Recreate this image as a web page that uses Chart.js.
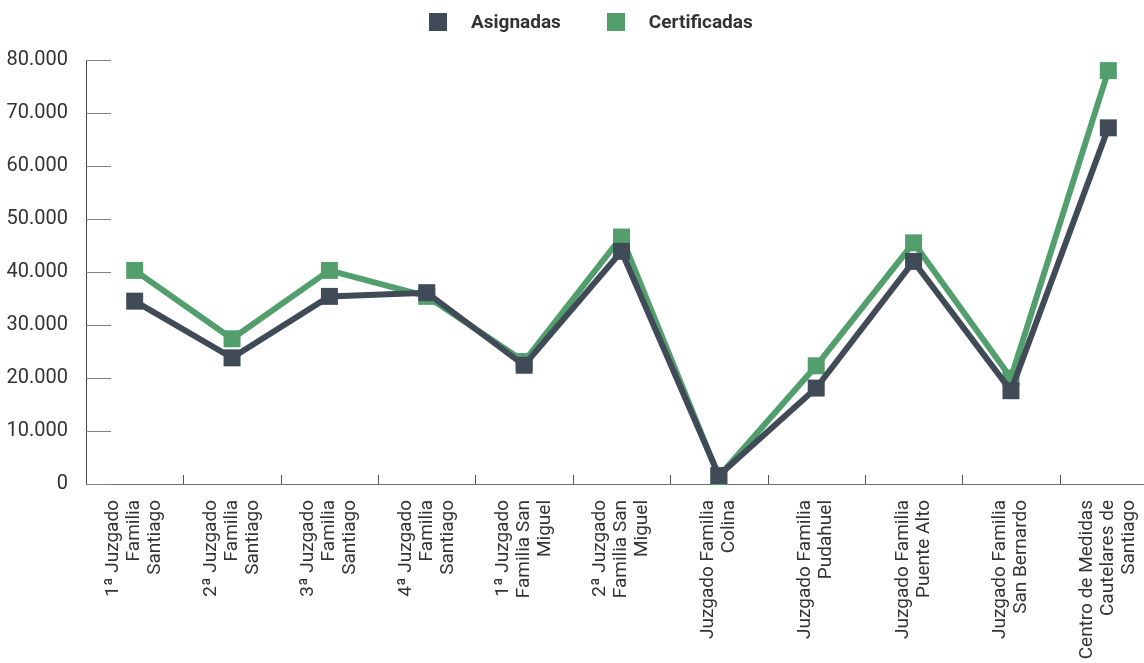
<!DOCTYPE html>
<html>
<head>
<meta charset="utf-8">
<script src="https://cdn.jsdelivr.net/npm/chart.js@4/dist/chart.umd.min.js"></script>
<style>
  html, body { margin: 0; padding: 0; background: #fff; overflow: hidden; }
  #wrap { position: relative; width: 1169px; height: 663px; }
  #legend { position: absolute; left: 429px; top: 10px; display: flex; align-items: center;
            font: bold 19px Roboto, 'Liberation Sans', sans-serif; color: #333; }
  #legend .item { display: flex; align-items: center; margin-right: 46px; }
  #legend .box { width: 18px; height: 18px; margin-right: 24px; }
</style>
</head>
<body>
<div id="wrap">
  <canvas id="chart" width="1169" height="663"></canvas>
  <div id="legend"></div>
</div>
<script>
const categories = [
    ['1ª Juzgado', 'Familia', 'Santiago'],
    ['2ª Juzgado', 'Familia', 'Santiago'],
    ['3ª Juzgado', 'Familia', 'Santiago'],
    ['4ª Juzgado', 'Familia', 'Santiago'],
    ['1ª Juzgado', 'Familia San', 'Miguel'],
    ['2ª Juzgado', 'Familia San', 'Miguel'],
    ['Juzgado Familia', 'Colina'],
    ['Juzgado Familia', 'Pudahuel'],
    ['Juzgado Familia', 'Puente Alto'],
    ['Juzgado Familia', 'San Bernardo'],
    ['Centro de Medidas', 'Cautelares de', 'Santiago']
];
const asignadas = [34500, 23800, 35400, 36100, 22400, 43900, 1600, 18100, 42000, 17600, 67200];
const certificadas = [40300, 27400, 40300, 35400, 23100, 46600, 1400, 22300, 45500, 20000, 78000];
const yTicks = [0, 10000, 20000, 30000, 40000, 50000, 60000, 70000, 80000];

const DARK = '#414b57';
const GREEN = '#529f6d';
const FONT = "Roboto, 'Liberation Sans', sans-serif";
const LINE_H = 21;

// short tick marks drawn inward from the axes, like the original
const innerTicks = {
    id: 'innerTicks',
    beforeDatasetsDraw(chart) {
        const { ctx, chartArea, scales: { x, y } } = chart;
        ctx.save();
        ctx.lineWidth = 1;
        ctx.strokeStyle = '#808080';
        ctx.beginPath();
        y.ticks.forEach((t, i) => {
            const py = Math.round(y.getPixelForTick(i)) + 0.5;
            ctx.moveTo(chartArea.left, py);
            ctx.lineTo(chartArea.left + 25, py);
        });
        ctx.stroke();
        ctx.strokeStyle = '#555';
        ctx.beginPath();
        for (let i = 1; i < x.ticks.length; i++) {
            const px = Math.round((x.getPixelForTick(i - 1) + x.getPixelForTick(i)) / 2) + 0.5;
            ctx.moveTo(px, chartArea.bottom);
            ctx.lineTo(px, chartArea.bottom - 9);
        }
        ctx.stroke();
        ctx.restore();
    }
};

// center multi-line rotated labels on their category
const centerLabels = {
    id: 'centerLabels',
    beforeDraw(chart) {
        const items = chart.scales.x.getLabelItems();
        if (items._centered) return;
        items.forEach(it => {
            const n = Array.isArray(it.label) ? it.label.length : 1;
            it.textOffset -= (n - 1) * LINE_H / 2;
        });
        items._centered = true;
    }
};

const chart = new Chart(document.getElementById('chart'), {
    type: 'line',
    data: {
        labels: categories,
        datasets: [
            {
                label: 'Asignadas',
                data: asignadas,
                borderColor: DARK,
                backgroundColor: DARK,
                borderWidth: 6,
                pointStyle: 'rect',
                pointRadius: 12,
                pointBorderWidth: 0,
                pointBackgroundColor: DARK,
                tension: 0,
                clip: false
            },
            {
                label: 'Certificadas',
                data: certificadas,
                borderColor: GREEN,
                backgroundColor: GREEN,
                borderWidth: 6,
                pointStyle: 'rect',
                pointRadius: 12,
                pointBorderWidth: 0,
                pointBackgroundColor: GREEN,
                tension: 0,
                clip: false
            }
        ]
    },
    options: {
        responsive: false,
        animation: false,
        layout: { padding: { top: 60, right: 0, left: 0, bottom: 0 } },
        plugins: {
            legend: { display: false },
            tooltip: { enabled: false }
        },
        scales: {
            x: {
                offset: true,
                grid: { display: false, drawTicks: false },
                border: { display: true, color: '#6e6e6e', width: 1 },
                ticks: {
                    minRotation: 90,
                    maxRotation: 90,
                    autoSkip: false,
                    padding: 16,
                    color: '#333',
                    font: { family: FONT, size: 19, lineHeight: LINE_H / 19 }
                },
                afterFit(scale) {
                    scale.height = 179;
                    scale.paddingLeft = 0;
                    scale.paddingRight = 0;
                }
            },
            y: {
                min: 0,
                max: 80000,
                afterBuildTicks(scale) { scale.ticks = yTicks.map(v => ({ value: v })); },
                grid: { display: false, drawTicks: false },
                border: { display: true, color: '#444', width: 1 },
                ticks: {
                    padding: 18,
                    color: '#333',
                    font: { family: FONT, size: 20 },
                    callback: v => v === 0 ? '0' : (v / 1000) + '.000'
                },
                afterFit(scale) { scale.width = 86; }
            }
        }
    },
    plugins: [innerTicks, centerLabels]
});

// legend built from the datasets
const legendEl = document.getElementById('legend');
chart.data.datasets.forEach(ds => {
    const item = document.createElement('div');
    item.className = 'item';
    const box = document.createElement('span');
    box.className = 'box';
    box.style.background = ds.backgroundColor;
    const text = document.createElement('span');
    text.textContent = ds.label;
    item.appendChild(box);
    item.appendChild(text);
    legendEl.appendChild(item);
});
</script>
</body>
</html>
